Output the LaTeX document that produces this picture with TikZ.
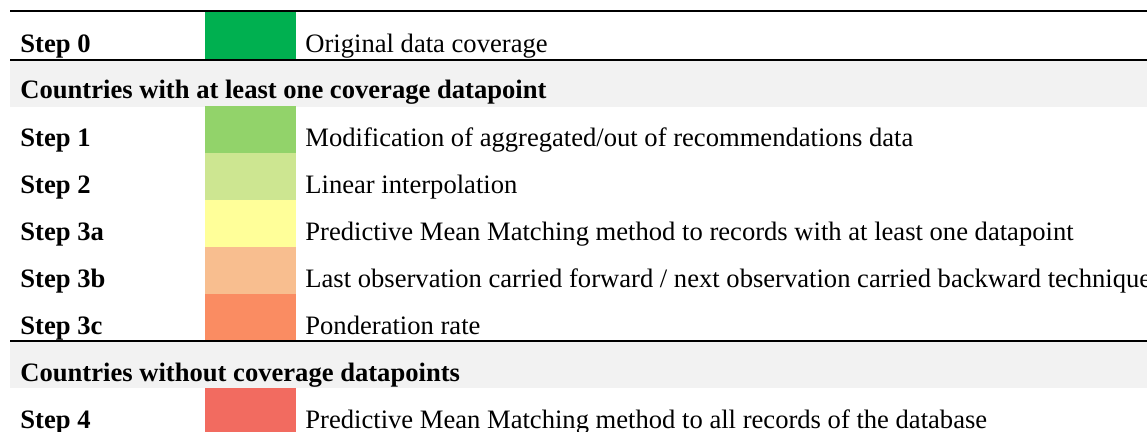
\documentclass[tikz,border=0pt]{standalone}
\usepackage{fontspec}
\setmainfont{Liberation Serif}
\usepackage{tikz}

\definecolor{step0}{HTML}{00B050}
\definecolor{step1}{HTML}{92D36A}
\definecolor{step2}{HTML}{CDE691}
\definecolor{step3a}{HTML}{FFFF99}
\definecolor{step3b}{HTML}{F8BE8F}
\definecolor{step3c}{HTML}{FA8C62}
\definecolor{step4}{HTML}{F26B60}
\definecolor{headgray}{HTML}{F2F2F2}

\tikzset{
	steplabel/.style={anchor=base west, inner sep=0pt, font=\fontsize{13.3}{16}\selectfont\bfseries},
	stepdesc/.style={anchor=base west, inner sep=0pt, font=\fontsize{13.3}{16}\selectfont},
	swatch/.style={anchor=north west, inner sep=0pt, outer sep=0pt, minimum width=45.5pt, minimum height=23.5pt},
	rule/.style={line width=1.2pt}
}

\begin{document}
\begin{tikzpicture}[x=0.5pt, y=-0.5pt]
	\useasboundingbox (0,0) rectangle (1147,432);
	% grey bands for the two groups
	\fill[headgray] (10,60) rectangle (1147,107);
	\fill[headgray] (10,341) rectangle (1147,388);
	% colour swatches
	\node[swatch, fill=step0] (sw0) at (205,12) {};
	\node[swatch, fill=step1] (sw1) at (205,106) {};
	\node[swatch, fill=step2] (sw2) at (205,153) {};
	\node[swatch, fill=step3a] (sw3a) at (205,200) {};
	\node[swatch, fill=step3b] (sw3b) at (205,247) {};
	\node[swatch, fill=step3c] (sw3c) at (205,294) {};
	\node[swatch, fill=step4] (sw4) at (205,388) {};
	% rules
	\draw[rule] (10,11) -- (1147,11);
	\draw[rule] (10,60) -- (1147,60);
	\draw[rule] (10,341) -- (1147,341);
	% rows
	\node[steplabel] (l0) at (20,53) {Step 0};
	\node[stepdesc] (d0) at (305,53) {Original data coverage};
	\node[steplabel] (g1) at (20,99) {Countries with at least one coverage datapoint};
	\node[steplabel] (l1) at (20,147) {Step 1};
	\node[stepdesc] (d1) at (305,147) {Modification of aggregated/out of recommendations data};
	\node[steplabel] (l2) at (20,194) {Step 2};
	\node[stepdesc] (d2) at (305,194) {Linear interpolation};
	\node[steplabel] (l3a) at (20,241) {Step 3a};
	\node[stepdesc] (d3a) at (305,241) {Predictive Mean Matching method to records with at least one datapoint};
	\node[steplabel] (l3b) at (20,288) {Step 3b};
	\node[stepdesc] (d3b) at (305,288) {Last observation carried forward / next observation carried backward technique};
	\node[steplabel] (l3c) at (20,335) {Step 3c};
	\node[stepdesc] (d3c) at (305,335) {Ponderation rate};
	\node[steplabel] (g2) at (20,382) {Countries without coverage datapoints};
	\node[steplabel] (l4) at (20,429) {Step 4};
	\node[stepdesc] (d4) at (305,429) {Predictive Mean Matching method to all records of the database};
\end{tikzpicture}
\end{document}
